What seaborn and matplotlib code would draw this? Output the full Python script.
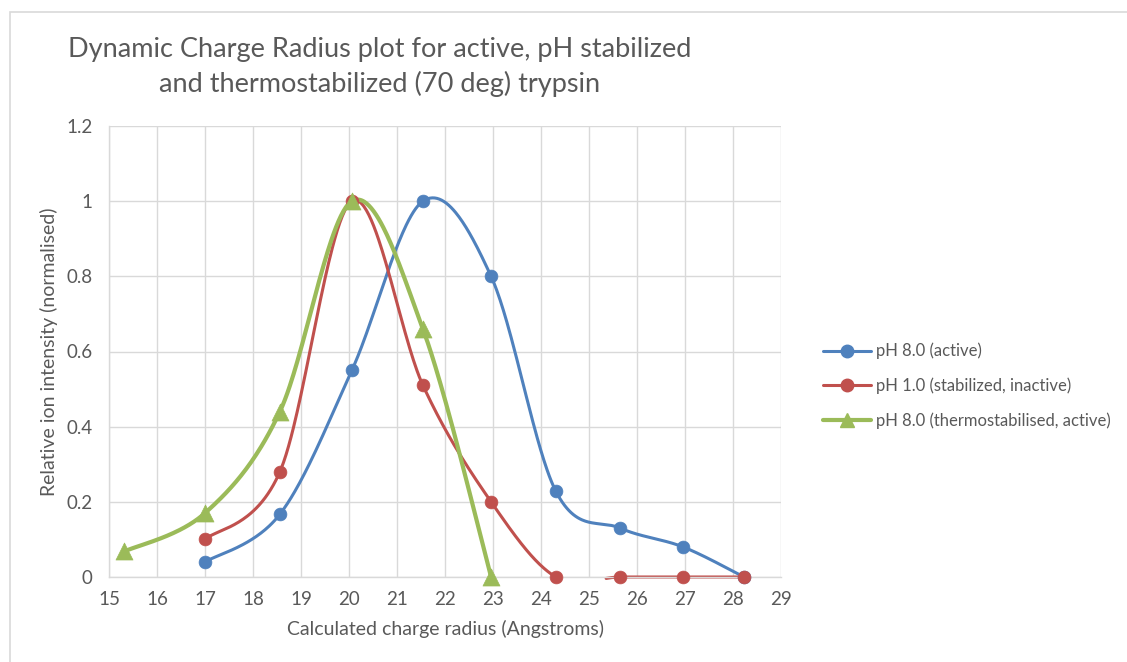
import numpy as np
import pandas as pd
import matplotlib
matplotlib.use("Agg")
import matplotlib.pyplot as plt
from matplotlib.lines import Line2D
from matplotlib.patches import Rectangle
import seaborn as sns

# Calculated charge radius (Angstroms) for each charge state
radius_active = [17.0, 18.56, 20.06, 21.54, 22.96, 24.31, 25.65, 26.96, 28.23]
intensity_active = [0.04, 0.167, 0.55, 1.0, 0.80, 0.228, 0.13, 0.08, 0.0]

radius_stabilized = [17.0, 18.56, 20.06, 21.54, 22.96, 24.31, 25.65, 26.96, 28.23]
intensity_stabilized = [0.10, 0.28, 1.0, 0.51, 0.20, 0.0, 0.0, 0.0, 0.0]

radius_thermo = [15.32, 17.0, 18.56, 20.06, 21.54, 22.96]
intensity_thermo = [0.068, 0.17, 0.44, 1.0, 0.66, 0.0]

series_labels = ["pH 8.0 (active)",
                 "pH 1.0 (stabilized, inactive)",
                 "pH 8.0 (thermostabilised, active)"]
x_ticks = list(range(15, 30))
y_ticks = [0, 0.2, 0.4, 0.6, 0.8, 1.0, 1.2]
y_tick_labels = ["0", "0.2", "0.4", "0.6", "0.8", "1", "1.2"]

BLUE, RED, GREEN = "#4F81BD", "#C0504D", "#9BBB59"
TEXT = "#595959"
GRID = "#D9D9D9"


def smooth_curve(xs, ys, n=60):
    """Bezier smoothing through every point (spreadsheet-style smoothed line).

    Stretches of the curve that dip below the x axis are dropped; each
    remaining stretch gets its own 'piece' id so it is drawn separately.
    """
    p = np.column_stack([xs, ys]).astype(float)
    p_ext = np.vstack([p[0], p, p[-1]])
    t = np.linspace(0, 1, n)[:, None]
    out = []
    for i in range(len(p) - 1):
        p0, p1, p2, p3 = p_ext[i], p_ext[i + 1], p_ext[i + 2], p_ext[i + 3]
        c1 = p1 + (p2 - p0) / 6.0
        c2 = p2 - (p3 - p1) / 6.0
        seg = ((1 - t) ** 3) * p1 + 3 * ((1 - t) ** 2) * t * c1 \
            + 3 * (1 - t) * t ** 2 * c2 + t ** 3 * p2
        out.append(seg if i == 0 else seg[1:])
    c = np.vstack(out)
    visible = c[:, 1] >= -0.004
    piece = np.cumsum(~visible)
    df = pd.DataFrame({"x": c[:, 0], "y": c[:, 1], "piece": piece})
    return df[visible].reset_index(drop=True)


sns.set_theme(style="white")
plt.rcParams["font.family"] = ["Lato", "DejaVu Sans"]

fig = plt.figure(figsize=(11.27, 6.62), dpi=100)
ax = fig.add_axes([109 / 1127, 1 - 577 / 662, 672 / 1127, 451 / 662])

# chart-area border
fig.patches.append(Rectangle((10 / 1127, -0.1), 1.2, (662 - 12) / 662 + 0.1,
                             transform=fig.transFigure, fill=False,
                             edgecolor="#D9D9D9", linewidth=1.2, zorder=0))

series = [
    (radius_active, intensity_active, BLUE, "o", 85, 2.2),
    (radius_stabilized, intensity_stabilized, RED, "o", 85, 2.2),
    (radius_thermo, intensity_thermo, GREEN, "^", 150, 3.0),
]

for xs, ys, color, marker, size, lw in series:
    curve = smooth_curve(xs, ys)
    n_before = len(ax.lines)
    sns.lineplot(data=curve, x="x", y="y", units="piece", ax=ax, color=color,
                 linewidth=lw, sort=False, estimator=None, legend=False)
    for ln in ax.lines[n_before:]:
        ln.set_clip_on(False)
    sns.scatterplot(x=xs, y=ys, ax=ax, color=color, marker=marker, s=size,
                    edgecolor=color, linewidth=0.5, legend=False, zorder=5)
    ax.collections[-1].set_clip_on(False)

ax.set_xlim(15, 29)
ax.set_ylim(0, 1.2)
ax.set_xticks(x_ticks)
ax.set_xticklabels([str(v) for v in x_ticks])
ax.set_yticks(y_ticks)
ax.set_yticklabels(y_tick_labels)
ax.grid(True, color=GRID, linewidth=1.0)
ax.set_axisbelow(True)
for side in ["top", "right"]:
    ax.spines[side].set_visible(False)
for side in ["left", "bottom"]:
    ax.spines[side].set_color(GRID)
    ax.spines[side].set_linewidth(1.0)
ax.tick_params(axis="both", length=0, labelsize=13.5, colors=TEXT)
ax.tick_params(axis="x", pad=10)
ax.tick_params(axis="y", pad=12)

ax.set_xlabel("Calculated charge radius (Angstroms)", fontsize=14, color=TEXT,
              labelpad=9)
ax.set_ylabel("Relative ion intensity (normalised)", fontsize=14, color=TEXT,
              labelpad=6)

fig.text(380 / 1127, 1 - 67 / 662,
         "Dynamic Charge Radius plot for active, pH stabilized\n"
         "and thermostabilized (70 deg) trypsin",
         ha="center", va="center", fontsize=19.5, color=TEXT,
         linespacing=1.4, multialignment="center")

handles = [
    Line2D([], [], color=BLUE, marker="o", markersize=9, linewidth=2.2),
    Line2D([], [], color=RED, marker="o", markersize=9, linewidth=2.2),
    Line2D([], [], color=GREEN, marker="^", markersize=10.5, linewidth=3.0),
]
leg = fig.legend(handles, series_labels, loc="center left",
                 bbox_to_anchor=(808 / 1127, 1 - 386 / 662), frameon=False,
                 fontsize=12, labelspacing=1.1, handlelength=2.9,
                 handletextpad=0.3)
for t in leg.get_texts():
    t.set_color(TEXT)

fig.savefig("out.png", dpi=100)
